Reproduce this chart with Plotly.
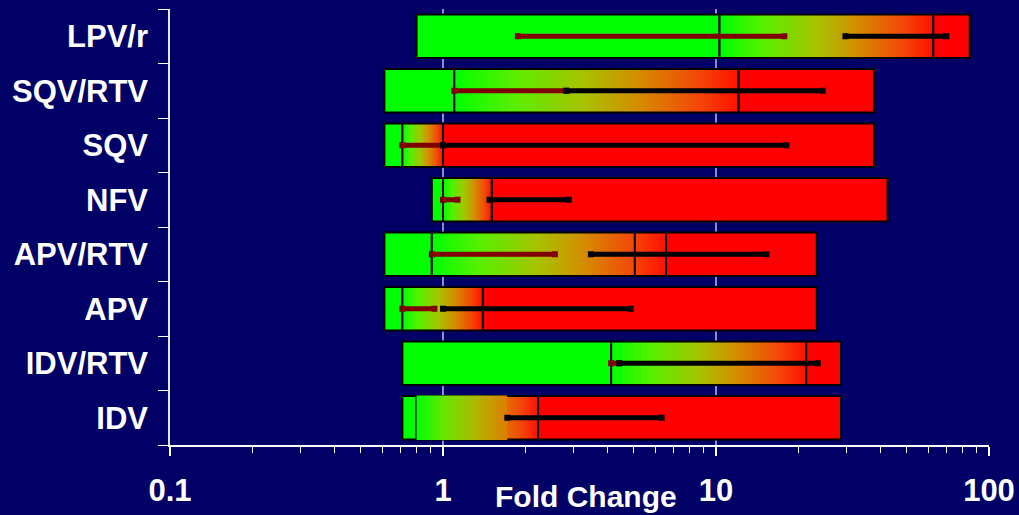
import plotly.graph_objects as go

# ---------------- data ----------------
drugs = ["IDV", "IDV/RTV", "APV", "APV/RTV", "NFV", "SQV", "SQV/RTV", "LPV/r"]
bar_start = [0.71, 0.71, 0.61, 0.61, 0.91, 0.61, 0.61, 0.80]
green_end = [0.80, 4.13, 0.71, 0.91, 1.00, 0.71, 1.10, 10.3]
grad_end = [2.23, 21.4, 1.40, 6.56, 1.51, 1.00, 12.1, 62.5]
bar_end = [28.7, 28.7, 23.4, 23.4, 42.5, 37.9, 37.9, 85.0]
extra_divider_drug = ["APV/RTV"]
extra_divider_val = [5.04]
overlay_drug = ["IDV"]
overlay_lo = [0.80]
overlay_hi = [1.72]
darkred_lo = [None, 4.13, 0.71, 0.91, 1.00, 0.71, 1.10, 1.88]
darkred_hi = [None, 4.42, 0.93, 2.57, 1.13, 1.00, 2.83, 17.8]
black_lo = [1.72, 4.42, 1.00, 3.48, 1.48, 1.00, 2.83, 29.8]
black_hi = [6.32, 23.6, 4.87, 15.3, 2.89, 18.1, 24.6, 69.8]
x_tickvals = [0.1, 1, 10, 100]
x_ticktext = ["0.1", "1", "10", "100"]

# ---------------- styling ----------------
BG = "#000066"
GREEN = "#00ff00"
RED = "#ff0000"
GRAD = [[0, "#00ff00"], [0.2, "#55f000"], [0.45, "#a6c300"],
        [0.65, "#d48c00"], [0.85, "#f24a08"], [1, "#ff1000"]]
OVERLAY_GRAD = [[0, "#00ff00"], [0.3, "#66e600"], [0.65, "#b0b800"], [1, "#e07c00"]]
HALF = 0.40
FONT = "Liberation Sans, Arial, sans-serif"

fig = go.Figure()


def rect_xy(x0, x1, yc, h=HALF):
    return [x0, x1, x1, x0, x0], [yc - h, yc - h, yc + h, yc + h, yc - h]


def add_rect(x0, x1, yc, fill=None, grad=None, outline=True, h=HALF):
    xs, ys = rect_xy(x0, x1, yc, h)
    kw = dict(x=xs, y=ys, mode="lines", fill="toself", hoverinfo="skip",
              showlegend=False)
    if outline:
        kw["line"] = dict(color="black", width=2)
    else:
        kw["line"] = dict(color="rgba(0,0,0,0)", width=0)
    if grad is not None:
        kw["fillgradient"] = dict(type="horizontal", colorscale=grad)
        kw["fillcolor"] = grad[0][1]
    else:
        kw["fillcolor"] = fill
    fig.add_trace(go.Scatter(**kw))


for i, d in enumerate(drugs):
    add_rect(bar_start[i], green_end[i], i, fill=GREEN)
    add_rect(green_end[i], grad_end[i], i, grad=GRAD)
    add_rect(grad_end[i], bar_end[i], i, fill=RED)

for d, v in zip(extra_divider_drug, extra_divider_val):
    i = drugs.index(d)
    fig.add_trace(go.Scatter(x=[v, v], y=[i - HALF, i + HALF], mode="lines",
                             line=dict(color="black", width=2),
                             hoverinfo="skip", showlegend=False))

for d, lo, hi in zip(overlay_drug, overlay_lo, overlay_hi):
    i = drugs.index(d)
    add_rect(lo, hi, i, grad=OVERLAY_GRAD, outline=False, h=HALF + 0.01)


def add_range(lo, hi, yc, color):
    if lo is None or hi is None:
        return
    fig.add_trace(go.Scatter(x=[lo, hi], y=[yc, yc], mode="lines+markers",
                             line=dict(color=color, width=5),
                             marker=dict(symbol="square", size=6, color=color),
                             hoverinfo="skip", showlegend=False))


for i in range(len(drugs)):
    add_range(darkred_lo[i], darkred_hi[i], i, "#800000")
for i in range(len(drugs)):
    add_range(black_lo[i], black_hi[i], i, "#000000")

minor_x = [m * 10 ** e for e in (-1, 0, 1) for m in range(2, 10)]

fig.update_layout(
    width=1019, height=515,
    margin=dict(l=170, r=30, t=9, b=70),
    paper_bgcolor=BG, plot_bgcolor=BG,
    showlegend=False,
    xaxis=dict(
        type="log", range=[-1, 2], automargin=False,
        tickmode="array", tickvals=x_tickvals, ticktext=x_ticktext,
        ticks="outside", ticklen=9, tickcolor="white", tickwidth=1.5,
        showline=True, linecolor="white", linewidth=1.5,
        showgrid=True, gridcolor="#8c8cc8", gridwidth=1.5,
        zeroline=False,
        tickfont=dict(family=FONT, size=31, color="white", weight="bold"),
        ticklabelstandoff=8,
        minor=dict(tickmode="array", tickvals=minor_x, ticks="outside",
                   ticklen=6, tickcolor="white", tickwidth=1, showgrid=False),
    ),
    yaxis=dict(
        range=[-0.5, len(drugs) - 0.5], automargin=False,
        tickmode="array", tickvals=list(range(len(drugs))), ticktext=drugs,
        ticks="", showgrid=False, zeroline=False,
        showline=True, linecolor="#e6e6ff", linewidth=1.5,
        tickfont=dict(family=FONT, size=31, color="white", weight="bold"),
        ticklabelstandoff=14,
        minor=dict(tickmode="array",
                   tickvals=[k - 0.5 for k in range(len(drugs) + 1)],
                   ticks="outside", ticklen=10, tickcolor="white",
                   tickwidth=1, showgrid=False),
    ),
    annotations=[dict(
        text="Fold Change", xref="paper", yref="paper",
        x=0.508, y=-0.119, xanchor="center", yanchor="middle",
        showarrow=False,
        font=dict(family=FONT, size=30, color="white", weight="bold"),
    )],
)

fig.write_html("out.html",
               config={"displayModeBar": False},
               post_script="document.body.style.margin='0';"
                           "document.body.style.background='#000066';")
